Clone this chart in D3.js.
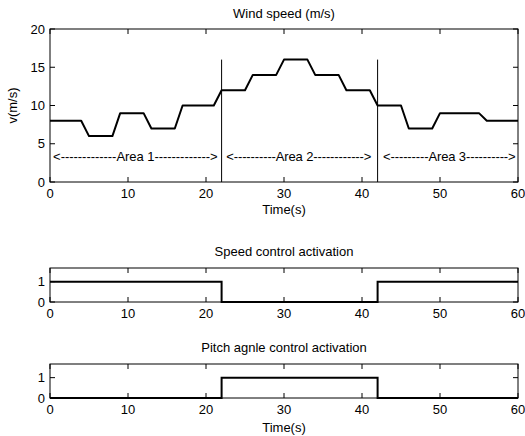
<!DOCTYPE html>
<html>
<head>
<meta charset="utf-8">
<script src="https://cdn.jsdelivr.net/npm/d3@7"></script>
<style>
  body { margin: 0; background: #fff; }
  text { font-family: Arial, "Liberation Sans", Helvetica, sans-serif; font-size: 13px; fill: #000; }
</style>
</head>
<body>
<div id="chart"></div>
<script>
// Data //////////////////////////////////////////////////////////////////
const windTime = [0, 4, 5, 8, 9, 12, 13, 16, 17, 21, 22, 25, 26, 29, 30, 33, 34, 37, 38, 41, 42, 45, 46, 49, 50, 55, 56, 60]
const windSpeed = [8, 8, 6, 6, 9, 9, 7, 7, 10, 10, 12, 12, 14, 14, 16, 16, 14, 14, 12, 12, 10, 10, 7, 7, 9, 9, 8, 8]

const areaBounds = [22, 42]       // vertical separators (s)
const areaBoundTop = 16           // separator height (m/s)
const areaLabels = ['<-------------Area 1------------->', '<----------Area 2------------>', '<---------Area 3---------->']
const areaStart = [0.4, 22.6, 42.7]
const areaEnd = [21.5, 41.2, 59.7]
const areaLabelY = 3.4

const stepTime = [0, 22, 42, 60]
const speedCtrl = [1, 0, 1, 1]
const pitchCtrl = [0, 1, 0, 0]

const xTicks = [0, 10, 20, 30, 40, 50, 60]
const windTicks = [0, 5, 10, 15, 20]
const ctrlTicks = [0, 1]
//////////////////////////////////////////////////////////////////////////

const width = 525
const height = 436
const left = 50
const right = 518

const svg = d3.select('#chart')
  .append('svg')
  .attr('width', width)
  .attr('height', height)

const xScale = d3.scaleLinear().domain([0, 60]).range([left, right])

// draws a matlab-style boxed axes with inward ticks on all four sides
function drawAxes(yScale, yTicks, opts) {
  const [y0, y1] = yScale.range()
  const g = svg.append('g')
  const tickLen = 5

  g.append('rect')
    .attr('x', left).attr('y', y1)
    .attr('width', right - left).attr('height', y0 - y1)
    .attr('fill', 'none').attr('stroke', '#000').attr('stroke-width', 1)

  xTicks.forEach(t => {
    const x = xScale(t)
    g.append('line').attr('x1', x).attr('x2', x).attr('y1', y0).attr('y2', y0 - tickLen).attr('stroke', '#000')
    g.append('line').attr('x1', x).attr('x2', x).attr('y1', y1).attr('y2', y1 + tickLen).attr('stroke', '#000')
    g.append('text')
      .attr('x', x).attr('y', y0 + opts.xLabelOffset)
      .attr('text-anchor', 'middle')
      .text(t)
  })

  yTicks.forEach(t => {
    const y = yScale(t)
    g.append('line').attr('x1', left).attr('x2', left + tickLen).attr('y1', y).attr('y2', y).attr('stroke', '#000')
    g.append('line').attr('x1', right).attr('x2', right - tickLen).attr('y1', y).attr('y2', y).attr('stroke', '#000')
    g.append('text')
      .attr('x', left - 5).attr('y', y).attr('dy', '0.36em')
      .attr('text-anchor', 'end')
      .text(t)
  })

  g.append('text')
    .attr('x', (left + right) / 2).attr('y', opts.titleY)
    .attr('text-anchor', 'middle')
    .text(opts.title)

  if (opts.xLabel) {
    g.append('text')
      .attr('x', (left + right) / 2).attr('y', opts.xLabelY)
      .attr('text-anchor', 'middle')
      .text(opts.xLabel)
  }
  return g
}

// Wind speed plot ////////////////////////////////////////////////////////
const yWind = d3.scaleLinear().domain([0, 20]).range([182, 29])

drawAxes(yWind, windTicks, {
  title: 'Wind speed (m/s)', titleY: 18,
  xLabelOffset: 16, xLabel: 'Time(s)', xLabelY: 214
})

svg.append('text')
  .attr('transform', `translate(17, ${(yWind(0) + yWind(20)) / 2}) rotate(-90)`)
  .attr('text-anchor', 'middle')
  .text('v(m/s)')

const windLine = d3.line()
  .x((d, i) => xScale(windTime[i]))
  .y(d => yWind(d))

svg.append('path')
  .datum(windSpeed)
  .attr('d', windLine)
  .attr('fill', 'none')
  .attr('stroke', '#000')
  .attr('stroke-width', 2)
  .attr('stroke-linejoin', 'round')

svg.selectAll('.sep')
  .data(areaBounds)
  .join('line')
  .attr('x1', d => xScale(d)).attr('x2', d => xScale(d))
  .attr('y1', yWind(0)).attr('y2', yWind(areaBoundTop))
  .attr('stroke', '#000')
  .attr('stroke-width', 1)

svg.selectAll('.area-label')
  .data(areaLabels)
  .join('text')
  .attr('x', (d, i) => xScale(areaStart[i]))
  .attr('y', yWind(areaLabelY))
  .attr('dy', '0.36em')
  .attr('textLength', (d, i) => xScale(areaEnd[i]) - xScale(areaStart[i]))
  .attr('lengthAdjust', 'spacing')
  .text(d => d)

// Control activation plots //////////////////////////////////////////////
const ctrlLine = yScale => d3.line()
  .x((d, i) => xScale(stepTime[i]))
  .y(d => yScale(d))
  .curve(d3.curveStepAfter)

const ySpeed = d3.scaleLinear().domain([0, 1.67]).range([302, 268])
drawAxes(ySpeed, ctrlTicks, {
  title: 'Speed control activation', titleY: 256,
  xLabelOffset: 16
})
svg.append('path')
  .datum(speedCtrl)
  .attr('d', ctrlLine(ySpeed))
  .attr('fill', 'none')
  .attr('stroke', '#000')
  .attr('stroke-width', 2)

const yPitch = d3.scaleLinear().domain([0, 1.67]).range([398, 364])
drawAxes(yPitch, ctrlTicks, {
  title: 'Pitch agnle control activation', titleY: 352,
  xLabelOffset: 16, xLabel: 'Time(s)', xLabelY: 432
})
svg.append('path')
  .datum(pitchCtrl)
  .attr('d', ctrlLine(yPitch))
  .attr('fill', 'none')
  .attr('stroke', '#000')
  .attr('stroke-width', 2)
</script>
</body>
</html>
